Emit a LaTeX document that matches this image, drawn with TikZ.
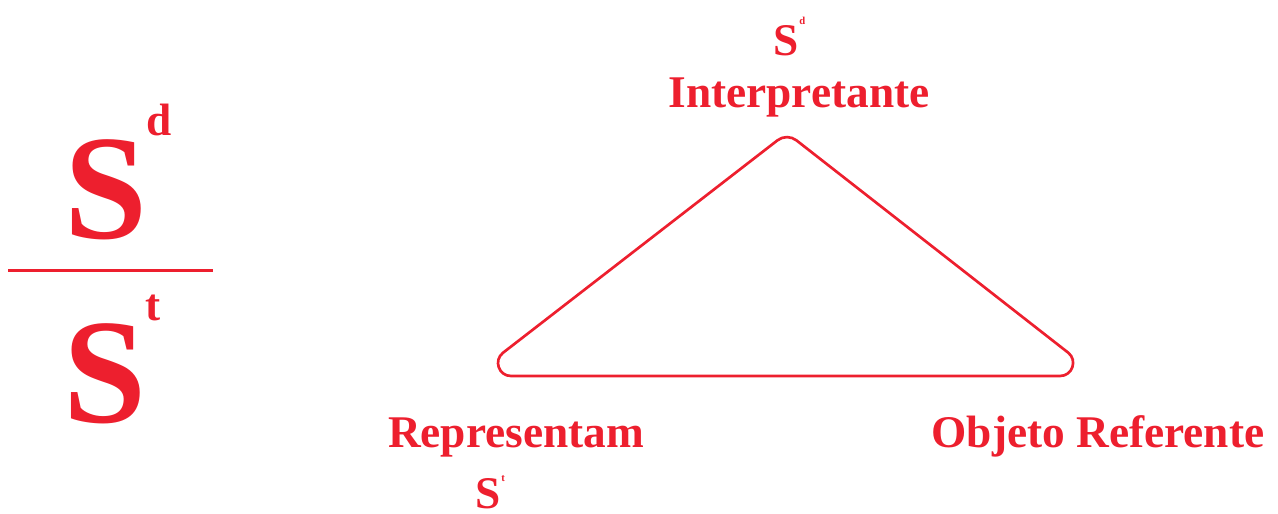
\documentclass[tikz,border=0pt]{standalone}
\usepackage{fontspec}
\setmainfont{Liberation Serif}
\usetikzlibrary{calc}
\definecolor{sred}{RGB}{237,31,46}
\begin{document}
\begin{tikzpicture}[x=0.75pt,y=-0.75pt,
  lbl/.style={inner sep=0pt,anchor=base,text=sred,font=\fontsize{34}{40}\selectfont\bfseries},
  big/.style={inner sep=0pt,anchor=base,text=sred,font=\fontsize{112}{120}\selectfont\bfseries},
  bigsup/.style={inner sep=0pt,anchor=base west,text=sred,font=\fontsize{34}{40}\selectfont\bfseries},
  tiny/.style={inner sep=0pt,anchor=base west,text=sred,font=\fontsize{8}{9}\selectfont\bfseries},
  tri/.style={draw=sred,line width=2pt}]
\useasboundingbox (0,0) rectangle (1278,514);
% fraction
\node[big] (Sd) at (106,238) {S};
\node[bigsup] (d) at (146,135) {d};
\draw[draw=sred,line width=1.8pt] (8,270.5) coordinate (fl) -- (213,270.5) coordinate (fr);
\node[big] (St) at (105,422) {S};
\node[bigsup] (t) at (145,320) {t};
% triangle
\coordinate (L) at (473,376);
\coordinate (R) at (1098,376);
\coordinate (T) at (787,133);
\coordinate (L1) at (511,376);
\coordinate (L2) at (503.1,352.7);
\coordinate (R1) at (1060,376);
\coordinate (R2) at (1068.1,352.6);
\coordinate (T1) at (777.5,140.3);
\coordinate (T2) at (796.5,140.4);
\draw[tri] (L1) -- (R1)
  .. controls ($(R1)!0.326!(R)$) and ($(R2)!0.326!(R)$) .. (R2)
  -- (T2)
  .. controls ($(T2)!0.59!(T)$) and ($(T1)!0.59!(T)$) .. (T1)
  -- (L2)
  .. controls ($(L2)!0.326!(L)$) and ($(L1)!0.326!(L)$) .. (L1) -- cycle;
% labels
\node[lbl] (sd) at (786,55) {S};
\node[tiny] (sdd) at (799,24) {d};
\node[lbl] (interp) at (799,107) {Interpretante};
\node[lbl] (repr) at (516,447) {Representam};
\node[lbl] (st) at (488,508) {S};
\node[tiny] (stt) at (501,481) {t};
\node[lbl] (obj) at (1098,447) {Objeto Referente};
\end{tikzpicture}
\end{document}
